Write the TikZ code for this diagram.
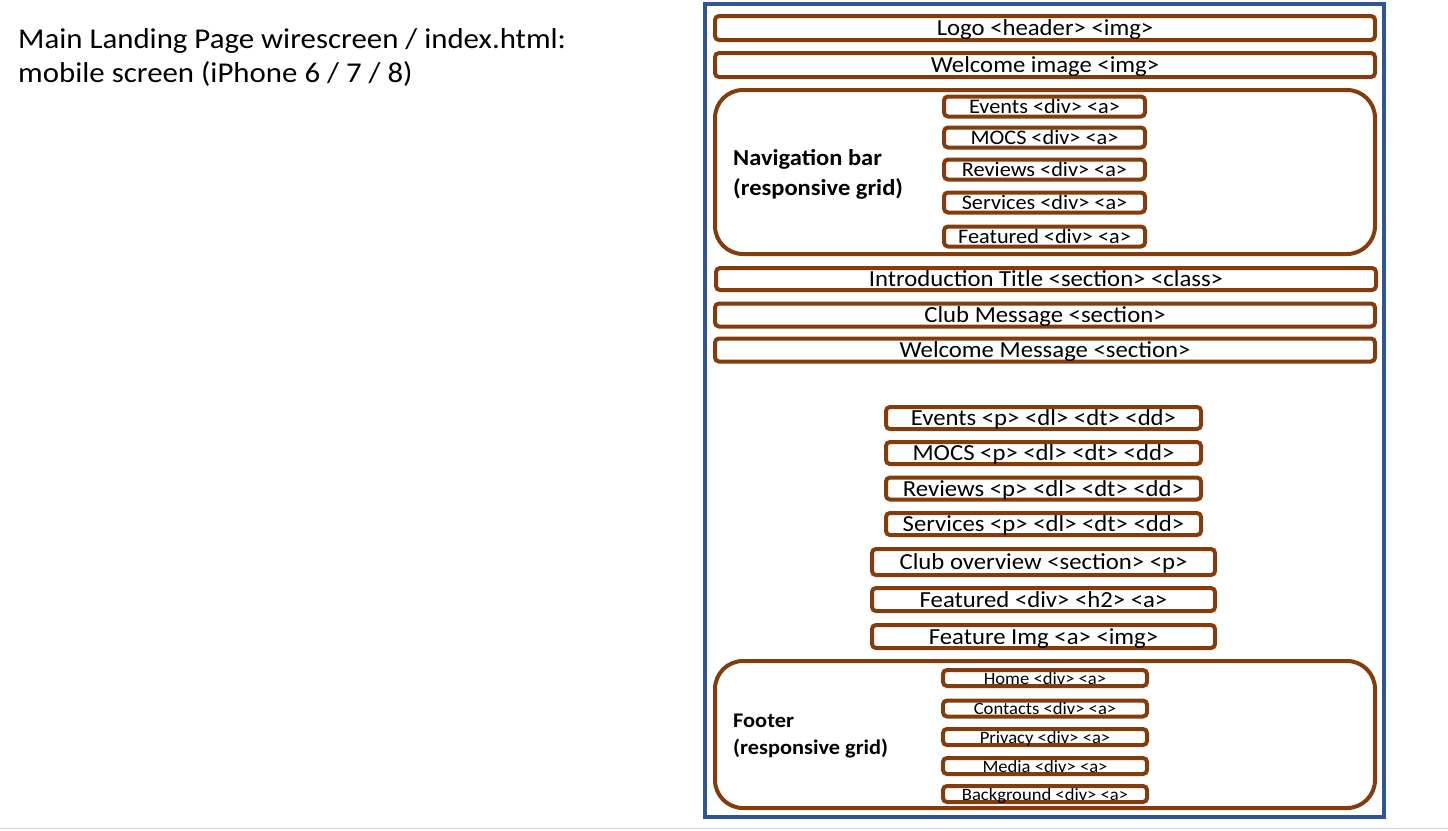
\documentclass[tikz,border=0pt]{standalone}
\usepackage{fontspec}
\setmainfont{Carlito}[FakeStretch=1.075]
\definecolor{brn}{HTML}{843C0C}
\definecolor{blu}{HTML}{2F5597}
\definecolor{gry}{HTML}{D0D0D0}
\begin{document}
\begin{tikzpicture}[x=1pt,y=-1pt,
  bx/.style={draw=brn,line width=4pt,rounded corners=4pt,inner sep=0pt,text depth=0pt,font=\fontsize{23}{25}\selectfont},
  nv/.style={bx,minimum width=201pt,minimum height=20pt,font=\fontsize{20.7}{22}\selectfont},
  pp/.style={bx,minimum width=315pt,minimum height=22pt},
  cl/.style={bx,minimum width=343pt,minimum height=23pt},
  ft/.style={bx,minimum width=204pt,minimum height=16pt,font=\fontsize{17.3}{19}\selectfont},
  wide/.style={bx,minimum width=660pt,minimum height=24pt},
  grp/.style={draw=brn,line width=4pt,rounded corners=28pt,minimum width=660pt,inner sep=0pt},
  lbl/.style={font=\bfseries\fontsize{22.8}{24}\selectfont,anchor=base west,inner sep=0pt},
  flbl/.style={font=\bfseries\fontsize{20.8}{22}\selectfont,anchor=base west,inner sep=0pt},
  ttl/.style={font=\fontsize{28.7}{30}\selectfont,anchor=base west,inner sep=0pt}]
\useasboundingbox (0,0) rectangle (1448,830);
\fill[white] (0,0) rectangle (1448,830);
\draw[gry,line width=1.5pt] (0,828.5) -- (1448,828.5);
\node[ttl] (title1) at (18,48) {Main Landing Page wirescreen / index.html:};
\node[ttl] (title2) at (18,82) {mobile screen (iPhone 6 / 7 / 8)};
\node[draw=blu,line width=4pt,minimum width=679pt,minimum height=813pt,inner sep=0pt] (frame) at (1044.5,410.5) {};
\node[wide] (logo) at (1045,28) {Logo <header> <img>};
\node[wide] (wimg) at (1045,65) {Welcome image <img>};
\node[grp,minimum height=164pt] (nav) at (1045,172) {};
\node[lbl] (navl1) at (733,165) {Navigation bar};
\node[lbl] (navl2) at (733,195) {(responsive grid)};
\node[nv] (n1) at (1044.5,106.5) {Events <div> <a>};
\node[nv] (n2) at (1044.5,137.5) {MOCS <div> <a>};
\node[nv] (n3) at (1044.5,169.5) {Reviews <div> <a>};
\node[nv] (n4) at (1044.5,202.5) {Services <div> <a>};
\node[nv] (n5) at (1044.5,236.5) {Featured <div> <a>};
\node[wide,minimum height=22pt] (intro) at (1046,279) {Introduction Title <section> <class>};
\node[wide,minimum height=23pt] (club) at (1045,315) {Club Message <section>};
\node[wide,minimum height=23pt] (welc) at (1045,350) {Welcome Message <section>};
\node[pp] (p1) at (1043.5,418) {Events <p> <dl> <dt> <dd>};
\node[pp] (p2) at (1043.5,453) {MOCS <p> <dl> <dt> <dd>};
\node[pp] (p3) at (1043.5,488.5) {Reviews <p> <dl> <dt> <dd>};
\node[pp] (p4) at (1043.5,524) {Services <p> <dl> <dt> <dd>};
\node[cl,minimum height=26pt] (over) at (1043.5,562) {Club overview <section> <p>};
\node[cl] (feat) at (1043.5,599.5) {Featured <div> <h2> <a>};
\node[cl] (fimg) at (1043.5,636.5) {Feature Img <a> <img>};
\node[grp,minimum height=147pt] (foot) at (1045,734.5) {};
\node[flbl] (footl1) at (733,727) {Footer};
\node[flbl] (footl2) at (733,754) {(responsive grid)};
\node[ft] (f1) at (1045,678) {Home <div> <a>};
\node[ft] (f2) at (1045,708.5) {Contacts <div> <a>};
\node[ft] (f3) at (1045,737) {Privacy <div> <a>};
\node[ft] (f4) at (1045,766) {Media <div> <a>};
\node[ft] (f5) at (1045,794) {Background <div> <a>};
\end{tikzpicture}
\end{document}
